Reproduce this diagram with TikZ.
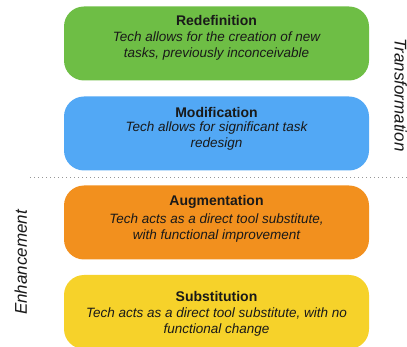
\documentclass[tikz,border=0pt]{standalone}
\usepackage{fontspec}
\setmainfont{Liberation Sans}
\definecolor{boxgreen}{RGB}{110,190,69}
\definecolor{boxblue}{RGB}{82,168,245}
\definecolor{boxorange}{RGB}{242,144,30}
\definecolor{boxyellow}{RGB}{246,210,42}
\definecolor{txt}{RGB}{25,25,25}
\definecolor{dotgray}{RGB}{150,150,150}
\tikzset{
  box/.style={rectangle, rounded corners=20pt, minimum width=305pt, minimum height=74pt, draw=none, inner sep=0pt},
  titletext/.style={font=\fontsize{14}{16}\selectfont\bfseries, text=txt, inner sep=0pt},
  desctext/.style={font=\fontsize{13.5}{16}\selectfont\itshape, text=txt, align=center, inner sep=0pt},
  sidetext/.style={font=\fontsize{17}{20}\selectfont\itshape, text=txt, inner sep=0pt, anchor=base},
  sepline/.style={draw=dotgray, line width=1.1pt, dash pattern=on 1.1pt off 2.9pt}
}
\begin{document}
\begin{tikzpicture}[x=1pt,y=-1pt]
\useasboundingbox (0,0) rectangle (407,347);
\clip (0,0) rectangle (407,347);
% boxes
\node[box, fill=boxgreen] (redef) at (216.5,43.5) {};
\node[box, fill=boxblue] (modif) at (216.5,133.5) {};
\node[box, fill=boxorange] (augm) at (216.5,222.5) {};
\node[box, fill=boxyellow] (subst) at (216.5,312) {};
% texts
\node[titletext] (redefT) at (216.5,20) {Redefinition};
\node[desctext] (redefD) at (216.5,46) {Tech allows for the creation of new\\tasks, previously inconceivable};
\node[titletext] (modifT) at (216.5,112) {Modification};
\node[desctext] (modifD) at (216.5,136.5) {Tech allows for significant task\\redesign};
\node[titletext] (augmT) at (216.5,202) {Augmentation};
\node[desctext] (augmD) at (216.5,228) {Tech acts as a direct tool substitute,\\with functional improvement};
\node[titletext] (substT) at (216.5,296) {Substitution};
\node[desctext] (substD) at (216.5,322.5) {Tech acts as a direct tool substitute, with no\\functional change};
% separator
\coordinate (sepL) at (30,177.5);
\coordinate (sepR) at (407,177.5);
\draw[sepline] (sepL) -- (sepR);
% side labels
\node[sidetext, rotate=-90] (trans) at (394.5,95) {Transformation};
\node[sidetext, rotate=90] (enh) at (27,262.5) {Enhancement};
\end{tikzpicture}
\end{document}
